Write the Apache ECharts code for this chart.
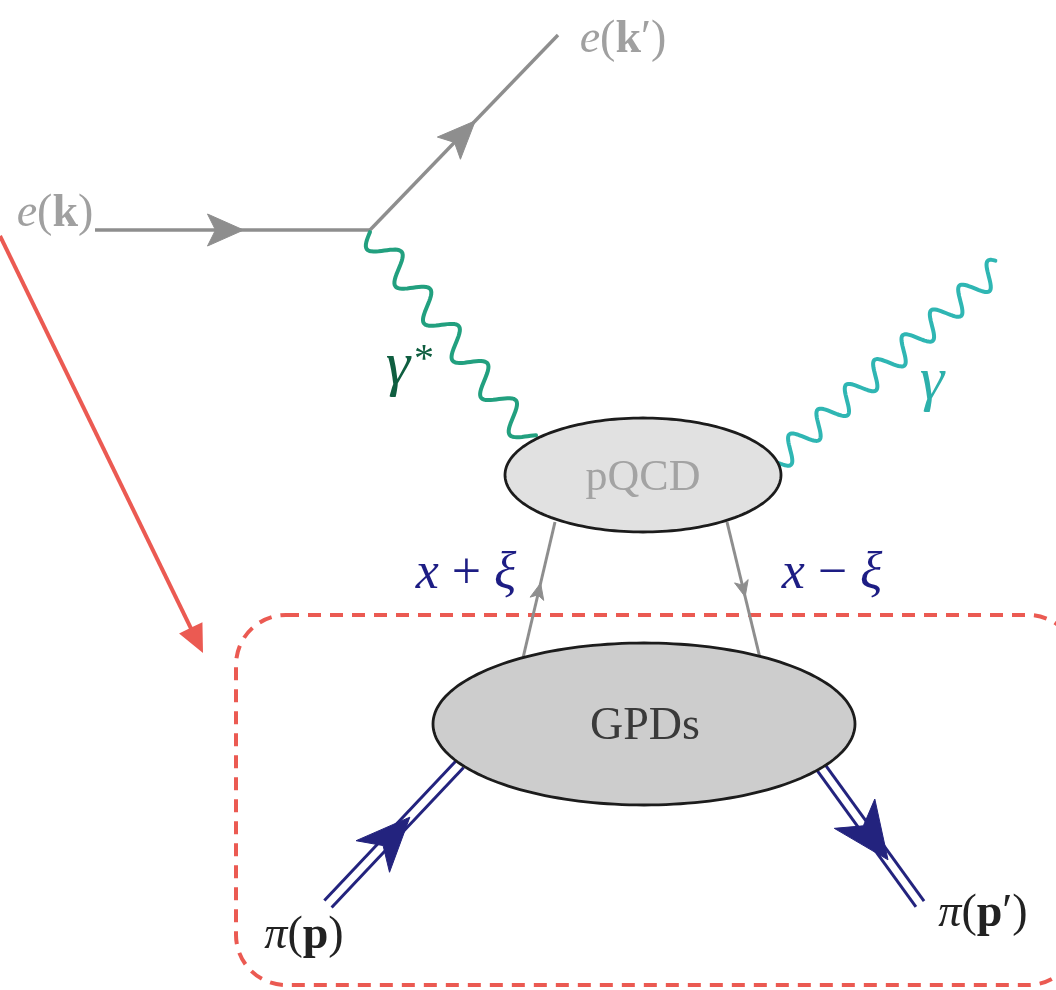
<!DOCTYPE html>
<html><head><meta charset="utf-8">
<script src="https://cdn.jsdelivr.net/npm/echarts@6/dist/echarts.min.js"></script>
<style>html,body{margin:0;padding:0;background:#fff}#c{width:1056px;height:990px}</style>
</head><body><div id="c"></div>
<script>
// ---- diagram data (diagram coordinates, y grows downward) ----
const electronIn   = [[95,230],[370,230]];
const electronOut  = [[370,230],[558,35]];
const photonVirtual= [[370,232],[530,440]];
const photonReal   = [[776,462],[1000,266]];
const quarkUp      = [[523,658],[555,522]];
const quarkDown    = [[727,522],[760,658]];
const pionIn       = [[328,904],[460,764]];
const pionOut      = [[820,766],[920,904]];
const pointer      = [[0,236],[203,653]];
const dashedBox    = [[236,615],[1078,985]];
const blobPQCD     = [643,475,138,57];
const blobGPD      = [644,724,211,81];
const labelTexts   = ['{i|e}{n|(}{b|k}{n|)}','{i|e}{n|(}{b|k}{n|′)}','{i|γ}','{n|*}','{i|γ}',
                      '{n|pQCD}','{n|GPDs}','{i|x} {n|+} {i|ξ}','{i|x} {n|−} {i|ξ}',
                      '{i|π}{n|(}{b|p}{n|)}','{i|π}{n|(}{b|p}{n|′)}'];
const labelAnchors = [[55,214],[623,40],[398,368],[424,360],[932,383],
                      [643,478],[645,727],[466,574],[832,574],[304,936],[983,914]];

// ---- styling ----
const labelStyle = [
  {size:46,color:'#a0a0a0'},{size:46,color:'#a0a0a0'},{size:62,color:'#0f5e40'},{size:40,color:'#0f5e40'},
  {size:62,color:'#2db0ab'},{size:44,color:'#a3a3a3'},{size:46,color:'#3a3a3a'},
  {size:52,color:'#1d1d84'},{size:52,color:'#1d1d84'},{size:46,color:'#222'},{size:46,color:'#222'}
];
const SERIF = 'Liberation Serif';

function unit(a,b){const dx=b[0]-a[0],dy=b[1]-a[1],L=Math.hypot(dx,dy);return [dx/L,dy/L,L];}
function head(tip,ux,uy,len,half,notch){
  const bx=tip[0]-ux*len, by=tip[1]-uy*len, nx=-uy, ny=ux;
  return [tip,[bx+nx*half,by+ny*half],[tip[0]-ux*(len-notch),tip[1]-uy*(len-notch)],[bx-nx*half,by-ny*half]];
}
function segSeries(name,pts,z,draw){
  return {type:'custom',name,coordinateSystem:'cartesian2d',z,silent:true,animation:false,
    data:[[pts[0][0],pts[0][1],pts[1][0],pts[1][1]]],
    renderItem:(params,api)=>{
      const a=api.coord([api.value(0),api.value(1)]), b=api.coord([api.value(2),api.value(3)]);
      return draw(a,b,api);
    }};
}
function fermion(color,width,t,len,half,notch){
  return (a,b)=>{
    const [ux,uy]=unit(a,b);
    const tip=[a[0]+(b[0]-a[0])*t,a[1]+(b[1]-a[1])*t];
    return {type:'group',children:[
      {type:'line',shape:{x1:a[0],y1:a[1],x2:b[0],y2:b[1]},style:{stroke:color,lineWidth:width}},
      {type:'polygon',shape:{points:head(tip,ux,uy,len,half,notch)},style:{fill:color,stroke:color,lineWidth:1}}
    ]};
  };
}
function doubleLine(color,width,gap,t,len,half,notch){
  return (a,b)=>{
    const [ux,uy]=unit(a,b), nx=-uy*gap, ny=ux*gap;
    const tip=[a[0]+(b[0]-a[0])*t,a[1]+(b[1]-a[1])*t];
    return {type:'group',children:[
      {type:'line',shape:{x1:a[0]+nx,y1:a[1]+ny,x2:b[0]+nx,y2:b[1]+ny},style:{stroke:color,lineWidth:width}},
      {type:'line',shape:{x1:a[0]-nx,y1:a[1]-ny,x2:b[0]-nx,y2:b[1]-ny},style:{stroke:color,lineWidth:width}},
      {type:'polygon',shape:{points:head(tip,ux,uy,len,half,notch)},style:{fill:color,stroke:color,lineWidth:1}}
    ]};
  };
}
function wavy(color,width,amp,periods){
  return (a,b)=>{
    const [ux,uy,L]=unit(a,b), nx=-uy, ny=ux, N=Math.round(periods*32), pts=[];
    for(let i=0;i<=N;i++){const t=i/N, s=Math.sin(2*Math.PI*periods*t)*amp;
      pts.push([a[0]+(b[0]-a[0])*t+nx*s,a[1]+(b[1]-a[1])*t+ny*s]);}
    return {type:'polyline',shape:{points:pts},style:{stroke:color,lineWidth:width,fill:null,lineJoin:'round',lineCap:'round'}};
  };
}
function blobSeries(name,blob,fill,z){
  return {type:'custom',name,coordinateSystem:'cartesian2d',z,silent:true,animation:false,
    data:[blob],
    renderItem:(params,api)=>{
      const c=api.coord([api.value(0),api.value(1)]);
      const s=api.size([api.value(2),api.value(3)]);
      const rx=Math.abs(s[0]), ry=Math.abs(s[1]), pts=[];
      for(let i=0;i<180;i++){const th=i/180*2*Math.PI;pts.push([c[0]+rx*Math.cos(th),c[1]+ry*Math.sin(th)]);}
      return {type:'polygon',shape:{points:pts},style:{fill,stroke:'#1c1c1c',lineWidth:2.8}};
    }};
}

const chart = echarts.init(document.getElementById('c'),null,{renderer:'canvas'});
const RED='#eb5a52', GRAY='#8e8e8e', NAVY='#23237e';
chart.setOption({
  animation:false,
  backgroundColor:'#ffffff',
  grid:{left:0,right:0,top:0,bottom:0},
  xAxis:{type:'value',min:0,max:1056,show:false},
  yAxis:{type:'value',min:0,max:990,inverse:true,show:false},
  series:[
    segSeries('box',dashedBox,1,(a,b)=>({type:'rect',
      shape:{x:a[0],y:a[1],width:b[0]-a[0],height:b[1]-a[1],r:50},
      style:{fill:null,stroke:RED,lineWidth:4,lineDash:[13,9]}})),
    segSeries('pointer',pointer,1,(a,b)=>{
      const [ux,uy]=unit(a,b);
      return {type:'group',children:[
        {type:'line',shape:{x1:a[0],y1:a[1],x2:b[0]-ux*20,y2:b[1]-uy*20},style:{stroke:RED,lineWidth:4}},
        {type:'polygon',shape:{points:head(b,ux,uy,28,13,0)},style:{fill:RED}}
      ]};
    }),
    segSeries('eIn',electronIn,2,fermion(GRAY,3.4,0.54,36,16,8)),
    segSeries('eOut',electronOut,2,fermion(GRAY,3.4,0.56,38,16,8)),
    segSeries('gammaStar',photonVirtual,2,wavy('#22a07f',4,13,5.6)),
    segSeries('gamma',photonReal,2,wavy('#2fb6b3',4,12,7.9)),
    segSeries('qUp',quarkUp,2,fermion(GRAY,3,0.55,16,7,4)),
    segSeries('qDown',quarkDown,2,fermion(GRAY,3,0.55,16,7,4)),
    segSeries('piIn',pionIn,2,doubleLine(NAVY,3,5,0.62,54,23,15)),
    segSeries('piOut',pionOut,2,doubleLine(NAVY,3,5,0.68,57,25,15)),
    blobSeries('pQCD',blobPQCD,'#e1e1e1',3),
    blobSeries('GPDs',blobGPD,'#cdcdcd',3),
    {type:'custom',name:'labels',coordinateSystem:'cartesian2d',z:5,silent:true,animation:false,
      data:labelAnchors,
      renderItem:(params,api)=>{
        const i=params.dataIndex, p=api.coord([api.value(0),api.value(1)]), st=labelStyle[i];
        const base={fontFamily:SERIF,fontSize:st.size,color:st.color,fill:st.color};
        return {type:'text',style:{x:p[0],y:p[1],text:labelTexts[i],align:'center',verticalAlign:'middle',
          fontFamily:SERIF,fontSize:st.size,fill:st.color,
          rich:{i:Object.assign({},base,{fontStyle:'italic'}),
                n:Object.assign({},base),
                b:Object.assign({},base,{fontWeight:'bold'})}}};
      }}
  ]
});
</script>
</body></html>
